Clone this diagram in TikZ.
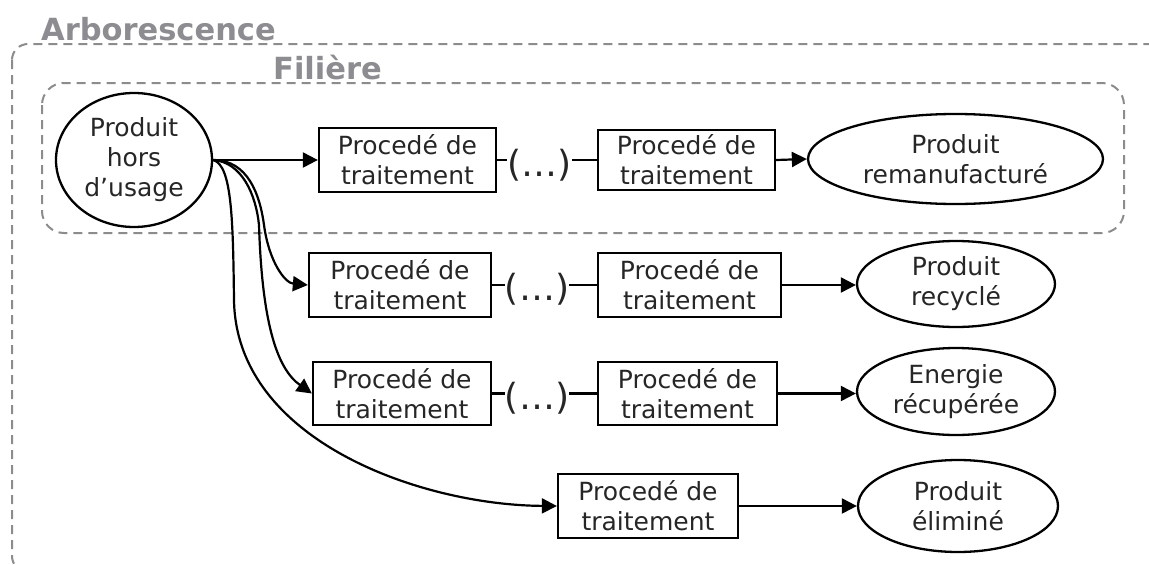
\documentclass[tikz,border=0pt]{standalone}
\usepackage{fontspec}
\setmainfont{DejaVu Sans}
\usetikzlibrary{shapes.geometric,arrows.meta}
\definecolor{titlegray}{RGB}{140,140,145}
\definecolor{dashgray}{RGB}{140,140,140}
\definecolor{txt}{RGB}{38,38,38}
\begin{document}
\begin{tikzpicture}[x=1pt,y=-1pt,
  lbl/.style={font=\fontsize{25}{30}\selectfont, text=txt, align=center, inner sep=0pt},
  procbox/.style={lbl, draw=black, line width=2.3pt, rectangle},
  prodell/.style={lbl, draw=black, line width=2.3pt, ellipse},
  dotsnode/.style={font=\fontsize{36}{40}\selectfont, text=txt, inner sep=0pt},
  title/.style={font=\fontsize{30.5}{34}\selectfont\bfseries, text=titlegray, inner sep=0pt, anchor=base west},
  grp/.style={draw=dashgray, line width=2pt, dash pattern=on 9pt off 6pt},
  link/.style={draw=black, line width=2.2pt},
  arr/.style={link, -{Triangle[length=15pt,width=15pt]}}
]
\useasboundingbox (0,0) rectangle (1149,565);
\clip (0,0) rectangle (1149,565);

% groups
\draw[grp, rounded corners=16pt] (12,44) rectangle (1175,572);
\draw[grp, rounded corners=22pt] (42,83) rectangle (1124,233);
\node[title] (tarbo) at (41,40) {Arborescence};
\node[title] (tfil) at (273,79) {Filière};

% source
\node[prodell, minimum width=156pt, minimum height=134pt] (src) at (134,160) {Produit\\hors\\d’usage};

% row 1
\node[procbox, minimum width=177pt, minimum height=64pt] (b1) at (407.5,160) {Procedé de\\traitement};
\node[dotsnode] (d1) at (539.5,165) {(…)};
\node[procbox, minimum width=177pt, minimum height=60pt] (b2) at (686.5,160) {Procedé de\\traitement};
\node[prodell, minimum width=295pt, minimum height=90pt] (e1) at (955.5,159) {Produit\\remanufacturé};

% row 2
\node[procbox, minimum width=182pt, minimum height=64pt] (b3) at (400,285) {Procedé de\\traitement};
\node[dotsnode] (d2) at (537,289) {(…)};
\node[procbox, minimum width=183pt, minimum height=64pt] (b4) at (689.5,285) {Procedé de\\traitement};
\node[prodell, minimum width=198pt, minimum height=86pt] (e2) at (956,284) {Produit\\recyclé};

% row 3
\node[procbox, minimum width=178pt, minimum height=63pt] (b5) at (402,393.5) {Procedé de\\traitement};
\node[dotsnode] (d3) at (537,398) {(…)};
\node[procbox, minimum width=179pt, minimum height=63pt] (b6) at (687.5,393.5) {Procedé de\\traitement};
\node[prodell, minimum width=198pt, minimum height=87pt] (e3) at (956,391.5) {Energie\\récupérée};

% row 4
\node[procbox, minimum width=180pt, minimum height=64pt] (b7) at (648,506) {Procedé de\\traitement};
\node[prodell, minimum width=200pt, minimum height=92pt] (e4) at (958,506) {Produit\\éliminé};

% row connectors
\draw[arr] (src.east) -- (b1.west);
\draw[link] (b1.east) -- (b1.east -| d1.west);
\draw[link] (d1.east |- b2.west) -- (b2.west);
\draw[arr] (b2.east) -- (e1.west);

\draw[link] (b3.east) -- (b3.east -| d2.west);
\draw[link] (d2.east |- b4.west) -- (b4.west);
\draw[arr] (b4.east) -- (b4.east -| e2.west);

\draw[link] (b5.east) -- (b5.east -| d3.west);
\draw[link] (d3.east |- b6.west) -- (b6.west);
\draw[arr] (b6.east) -- (b6.east -| e3.west);

\draw[arr] (b7.east) -- (e4.west);

% branching curves
\draw[arr] (src.east) .. controls (248,160) and (260,195) .. (264,225)
  .. controls (269,262) and (285,283) .. (b3.west);
\draw[arr] (src.east) .. controls (242,162) and (256,195) .. (259,225)
  .. controls (262,320) and (276,368) .. (b5.west);
\draw[arr] (src.east) .. controls (232,165) and (233,220) .. (234,300)
  .. controls (236,440) and (420,505) .. (b7.west);
\end{tikzpicture}
\end{document}
